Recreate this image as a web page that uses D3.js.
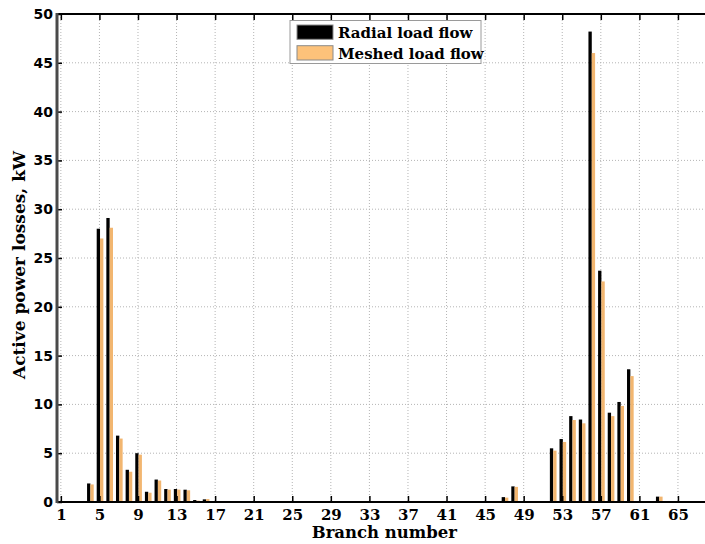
<!DOCTYPE html>
<html>
<head>
<meta charset="utf-8">
<script src="https://cdn.jsdelivr.net/npm/d3@7"></script>
<style>
  html, body { margin: 0; padding: 0; background: #fff; }
  svg { display: block; }
</style>
</head>
<body>
<svg id="chart" width="705" height="544"></svg>
<script>
// ---- data ----
const branches = d3.range(1, 69); // branch numbers 1..68
const radial = [
  0, 0, 0.1, 1.9, 28.0, 29.1, 6.8, 3.3, 5.0, 1.05,
  2.3, 1.33, 1.33, 1.26, 0.2, 0.27, 0, 0.07, 0, 0.07,
  0, 0, 0, 0, 0, 0, 0, 0, 0, 0,
  0, 0, 0, 0, 0, 0, 0, 0, 0, 0,
  0, 0, 0, 0, 0, 0, 0.5, 1.6, 0, 0,
  0, 5.5, 6.45, 8.8, 8.45, 48.2, 23.7, 9.15, 10.25, 13.6,
  0, 0.05, 0.55, 0, 0, 0, 0, 0
];
const meshed = [
  0, 0, 0.08, 1.8, 27.0, 28.1, 6.5, 3.1, 4.85, 0.95,
  2.2, 1.27, 1.27, 1.2, 0.14, 0.3, 0, 0.05, 0, 0.05,
  0, 0, 0, 0, 0, 0, 0, 0, 0, 0,
  0, 0, 0, 0, 0, 0, 0, 0, 0, 0,
  0, 0, 0, 0, 0, 0, 0.45, 1.55, 0, 0,
  0, 5.26, 6.15, 8.4, 8.06, 46.0, 22.6, 8.8, 9.84, 12.9,
  0, 0.03, 0.55, 0, 0, 0, 0, 0
];
const seriesNames = ["Radial load flow", "Meshed load flow"];
const seriesColors = ["#000000", "#F2B670"];
const xTicks = d3.range(1, 66, 4);          // 1,5,...,65
const yTicks = d3.range(0, 51, 5);          // 0..50
const xLabel = "Branch number";
const yLabel = "Active power losses, kW";

// ---- layout ----
const svg = d3.select("#chart");
const plotL = 57, plotT = 14, plotB = 502, plotR = 711.7;

const x = d3.scaleLinear().domain([0.6, 68.5]).range([plotL, plotR]);
const y = d3.scaleLinear().domain([0, 50]).range([plotB, plotT]);
const step = x(2) - x(1);
const bw = step * 0.345;

// grid
const grid = svg.append("g").attr("class", "grid");
grid.selectAll("line.v").data(xTicks).join("line")
  .attr("x1", d => x(d)).attr("x2", d => x(d))
  .attr("y1", plotT).attr("y2", plotB)
  .attr("stroke", "#b4b4b4").attr("stroke-width", 1)
  .attr("stroke-dasharray", "1,2");
grid.selectAll("line.h").data(yTicks.filter(d => d > 0 && d < 50)).join("line")
  .attr("x1", plotL).attr("x2", plotR)
  .attr("y1", d => y(d)).attr("y2", d => y(d))
  .attr("stroke", "#b4b4b4").attr("stroke-width", 1)
  .attr("stroke-dasharray", "1,2");

// bars
const series = [radial, meshed];
series.forEach((vals, si) => {
  svg.append("g").selectAll("rect").data(branches.map((b, i) => ({b, v: vals[i]})).filter(d => d.v > 0))
    .join("rect")
    .attr("x", d => x(d.b) + 0.6 + (si === 0 ? -bw : 0))
    .attr("width", bw)
    .attr("y", d => y(d.v))
    .attr("height", d => y(0) - y(d.v))
    .attr("fill", seriesColors[si]);
});

// axes
const fontSerif = "'DejaVu Serif', 'Liberation Serif', serif";
const fontSans = "'DejaVu Sans', 'Liberation Sans', sans-serif";

const xAxisBottom = d3.axisBottom(x).tickValues(xTicks).tickSize(-6).tickPadding(8).tickFormat(d3.format("d"));
const gxb = svg.append("g").attr("transform", `translate(0,${plotB})`).call(xAxisBottom);
gxb.select(".domain").remove();
gxb.selectAll(".tick line").attr("stroke", "#000").attr("stroke-width", 1.5);
gxb.selectAll(".tick text").attr("font-family", fontSerif).attr("font-weight", "bold")
  .attr("font-size", 15).attr("fill", "#000").attr("dy", "0.68em");

const xAxisTop = d3.axisTop(x).tickValues(xTicks).tickSize(-6).tickFormat("");
const gxt = svg.append("g").attr("transform", `translate(0,${plotT})`).call(xAxisTop);
gxt.select(".domain").remove();
gxt.selectAll(".tick line").attr("stroke", "#000").attr("stroke-width", 1.5);

const yAxis = d3.axisLeft(y).tickValues(yTicks).tickSize(-5).tickPadding(4).tickFormat(d3.format("d"));
const gy = svg.append("g").attr("transform", `translate(${plotL},0)`).call(yAxis);
gy.select(".domain").remove();
gy.selectAll(".tick line").attr("stroke", "#000").attr("stroke-width", 1.5);
gy.selectAll(".tick text").attr("font-family", fontSans).attr("font-weight", "bold")
  .attr("font-size", 14).attr("fill", "#000");

// frame lines
svg.append("line").attr("x1", plotL).attr("x2", 705).attr("y1", plotT).attr("y2", plotT)
  .attr("stroke", "#000").attr("stroke-width", 2);
svg.append("line").attr("x1", plotL).attr("x2", 705).attr("y1", plotB).attr("y2", plotB)
  .attr("stroke", "#000").attr("stroke-width", 2);
svg.append("line").attr("x1", plotL).attr("x2", plotL).attr("y1", plotT - 1).attr("y2", plotB + 1)
  .attr("stroke", "#4a4a4a").attr("stroke-width", 3);

// axis titles
svg.append("text").attr("x", (plotL + plotR) / 2).attr("y", 538)
  .attr("text-anchor", "middle").attr("font-family", fontSerif).attr("font-weight", "bold")
  .attr("font-size", 16.5).text(xLabel);
svg.append("text").attr("transform", `translate(25,${265}) rotate(-90)`)
  .attr("text-anchor", "middle").attr("font-family", fontSerif).attr("font-weight", "bold")
  .attr("font-size", 17).text(yLabel);

// legend
const lg = svg.append("g");
lg.append("rect").attr("x", 290).attr("y", 20.5).attr("width", 191).attr("height", 43)
  .attr("fill", "#fff").attr("stroke", "#9a9a9a").attr("stroke-width", 1);
seriesNames.forEach((name, i) => {
  lg.append("rect").attr("x", 297).attr("y", 25 + i * 20.7).attr("width", 36).attr("height", 14.3)
    .attr("fill", i === 0 ? "#000" : "#FDC27A").attr("stroke", "#8a8a8a").attr("stroke-width", 1);
  lg.append("text").attr("x", 338).attr("y", 38.3 + i * 20.7)
    .attr("font-family", fontSerif).attr("font-weight", "bold").attr("font-size", 15)
    .attr("fill", "#000").text(name);
});
</script>
</body>
</html>
